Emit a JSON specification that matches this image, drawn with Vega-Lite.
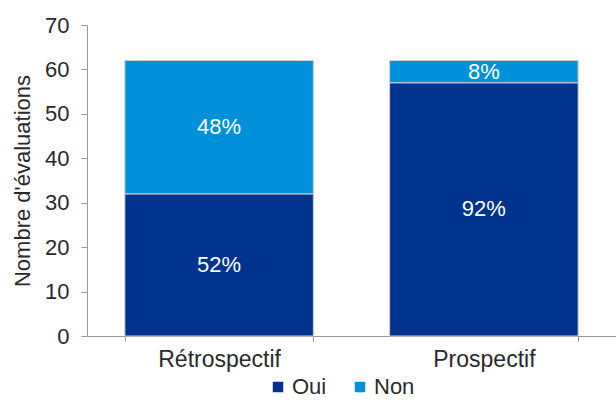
{
  "$schema": "https://vega.github.io/schema/vega-lite/v6.json",
  "width": 529,
  "height": 311,
  "autosize": "none",
  "padding": {"left": 87, "top": 25, "right": 0, "bottom": 64},
  "background": "white",
  "config": {
    "view": {"stroke": null},
    "font": "Liberation Sans"
  },
  "data": {
    "values": [
      {"type": "Rétrospectif", "answer": "Oui", "count": 32, "label": "52%"},
      {"type": "Rétrospectif", "answer": "Non", "count": 30, "label": "48%"},
      {"type": "Prospectif", "answer": "Oui", "count": 57, "label": "92%"},
      {"type": "Prospectif", "answer": "Non", "count": 5, "label": "8%"}
    ]
  },
  "encoding": {
    "x": {
      "field": "type",
      "type": "nominal",
      "sort": ["Rétrospectif", "Prospectif"],
      "scale": {"paddingInner": 0.288, "paddingOuter": 0.143},
      "axis": {
        "title": null,
        "labelAngle": 0,
        "labelFont": "Liberation Sans",
        "labelFontSize": 23,
        "labelColor": "#2a2a2a",
        "labelPadding": 7,
        "domainColor": "#999999",
        "tickColor": "#999999",
        "tickBand": "extent",
        "tickSize": 5
      }
    }
  },
  "layer": [
    {
      "mark": {"type": "bar", "stroke": "#d0d0d0", "strokeWidth": 1},
      "encoding": {
        "y": {
          "field": "count",
          "type": "quantitative",
          "stack": "zero",
          "scale": {"domain": [0, 70], "nice": false},
          "axis": {
            "title": "Nombre d'évaluations",
            "titleFont": "Liberation Sans",
            "titleFontSize": 22,
            "titleFontWeight": "normal",
            "titleColor": "#2a2a2a",
            "titlePadding": 10,
            "values": [0, 10, 20, 30, 40, 50, 60, 70],
            "grid": false,
            "labelFont": "Liberation Sans",
            "labelFontSize": 22,
            "labelColor": "#2a2a2a",
            "labelPadding": 12,
            "domainColor": "#999999",
            "tickColor": "#999999",
            "tickSize": 6
          }
        },
        "color": {
          "field": "answer",
          "type": "nominal",
          "scale": {"domain": ["Oui", "Non"], "range": ["#00338d", "#0091da"]},
          "legend": {
            "title": null,
            "orient": "none",
            "direction": "horizontal",
            "legendX": 180,
            "legendY": 351,
            "symbolType": "square",
            "symbolSize": 110,
            "symbolStrokeWidth": 0,
            "labelFont": "Liberation Sans",
            "labelFontSize": 22,
            "labelColor": "#2a2a2a",
            "labelOffset": 3,
            "columnPadding": 22
          }
        },
        "order": {"field": "answer", "sort": "descending"}
      }
    },
    {
      "transform": [
        {"stack": "count", "groupby": ["type"], "sort": [{"field": "answer", "order": "descending"}], "as": ["y0", "y1"]},
        {"calculate": "(datum.y0 + datum.y1) / 2", "as": "mid"}
      ],
      "mark": {"type": "text", "color": "white", "font": "Liberation Sans", "fontSize": 22, "baseline": "middle"},
      "encoding": {
        "y": {"field": "mid", "type": "quantitative"},
        "text": {"field": "label"}
      }
    }
  ]
}
